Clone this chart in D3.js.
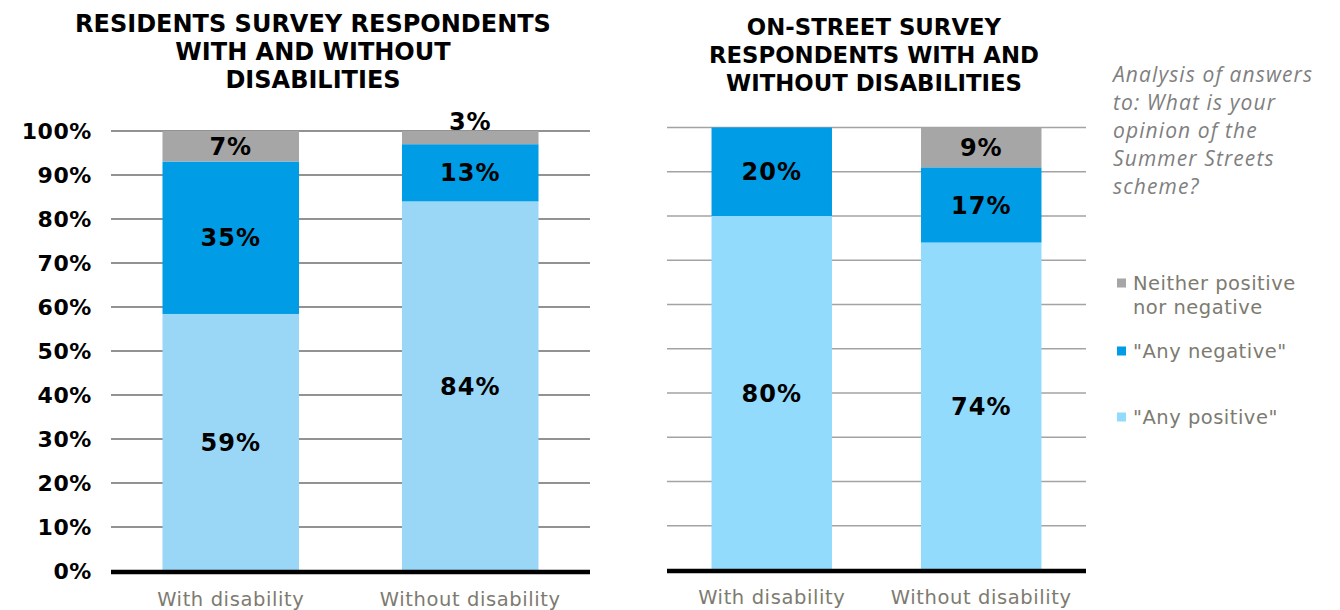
<!DOCTYPE html>
<html>
<head>
<meta charset="utf-8">
<script src="https://cdn.jsdelivr.net/npm/d3@7"></script>
<style>
  html, body { margin: 0; padding: 0; background: #ffffff; }
  svg { display: block; }
</style>
</head>
<body>
<svg id="chart" width="1340" height="610"></svg>
<script>
// Response categories, bottom to top of each stacked bar
const categories = ["With disability", "Without disability"];
const seriesKeys = ["positive", "negative", "neither"];
const seriesNames = ["\"Any positive\"", "\"Any negative\"", "Neither positive nor negative"];

// Residents survey (percent of respondents)
const residentsPositive = [59, 84];
const residentsNegative = [35, 13];
const residentsNeither  = [7, 3];

// On-street survey (percent of respondents)
const streetPositive = [80, 74];
const streetNegative = [20, 17];
const streetNeither  = [0, 9];

const yTicks = [0, 10, 20, 30, 40, 50, 60, 70, 80, 90, 100];

const residentsTitle = ["RESIDENTS SURVEY RESPONDENTS", "WITH AND WITHOUT", "DISABILITIES"];
const streetTitle = ["ON-STREET SURVEY", "RESPONDENTS WITH AND", "WITHOUT DISABILITIES"];
const noteLines = ["Analysis of answers", "to: What is your", "opinion of the", "Summer Streets", "scheme?"];

const svg = d3.select("#chart");
const labelFont = "'DejaVu Sans', Verdana, sans-serif";
const catColor = "#7d7b70";

function buildRows(pos, neg, nei) {
  return categories.map((c, i) => ({ category: c, positive: pos[i], negative: neg[i], neither: nei[i] }));
}

function drawPanel(opts) {
  const rows = buildRows(opts.pos, opts.neg, opts.nei);
  const stack = d3.stack().keys(seriesKeys).offset(d3.stackOffsetExpand);
  const layers = stack(rows);

  const x = d3.scaleBand().domain(categories)
    .range([opts.x0, opts.x1]).paddingInner(opts.pad).paddingOuter(opts.pad / 2);
  const y = d3.scaleLinear().domain([0, 1]).range([opts.y0, opts.y1]);
  const color = d3.scaleOrdinal().domain(seriesKeys).range(opts.colors);

  const g = svg.append("g");

  // horizontal gridlines
  g.append("g").selectAll("line").data(yTicks.filter(t => t > 0)).join("line")
    .attr("x1", opts.x0).attr("x2", opts.x1)
    .attr("y1", d => y(d / 100)).attr("y2", d => y(d / 100))
    .attr("stroke", opts.gridColor).attr("stroke-width", 1.3);

  // y axis tick labels
  if (opts.showY) {
    const yAxis = d3.axisLeft(d3.scaleLinear().domain([0, 100]).range([opts.y0, opts.y1]))
      .tickValues(yTicks).tickFormat(d => d + "%").tickSize(0).tickPadding(0);
    const ya = g.append("g").attr("transform", `translate(${opts.yLabelX},0)`).call(yAxis);
    ya.select(".domain").remove();
    ya.selectAll("text").attr("font-family", labelFont).attr("font-weight", "bold")
      .attr("font-size", 22).attr("letter-spacing", 0.6).attr("fill", "#000").attr("dy", "0.36em");
  }

  // stacked bars
  const layerG = g.append("g").selectAll("g").data(layers).join("g")
    .attr("fill", d => color(d.key));
  layerG.selectAll("rect").data(d => d.filter(s => s[1] - s[0] > 0)).join("rect")
    .attr("x", d => x(d.data.category))
    .attr("width", x.bandwidth())
    .attr("y", d => y(d[1]))
    .attr("height", d => y(d[0]) - y(d[1]));

  // value labels
  const labels = [];
  layers.forEach(layer => {
    layer.forEach(s => {
      const v = s.data[layer.key];
      if (v > 0) labels.push({ cat: s.data.category, v, top: y(s[1]), bot: y(s[0]) });
    });
  });
  g.append("g").selectAll("text").data(labels).join("text")
    .attr("x", d => x(d.cat) + x.bandwidth() / 2)
    .attr("y", d => (d.bot - d.top) < 20 ? d.top - 10 : (d.top + d.bot) / 2)
    .attr("dy", "0.36em")
    .attr("text-anchor", "middle")
    .attr("font-family", labelFont).attr("font-weight", "bold").attr("font-size", 24)
    .attr("letter-spacing", 1)
    .attr("fill", "#000")
    .text(d => d.v + "%");

  // base axis line
  g.append("line")
    .attr("x1", opts.x0).attr("x2", opts.x1)
    .attr("y1", y(0) + 1).attr("y2", y(0) + 1)
    .attr("stroke", "#000").attr("stroke-width", 4.5);

  // category labels
  const xAxis = d3.axisBottom(x).tickSize(0).tickPadding(0);
  const xa = g.append("g").attr("transform", `translate(0,${opts.catY})`).call(xAxis);
  xa.select(".domain").remove();
  xa.selectAll("text").attr("font-family", labelFont).attr("font-size", 19.5)
    .attr("letter-spacing", 0.6)
    .attr("fill", catColor).attr("dy", "0.36em");

  // title
  g.append("g").selectAll("text").data(opts.title).join("text")
    .attr("x", opts.titleX).attr("y", (d, i) => opts.titleY + i * 28)
    .attr("dy", "0.36em")
    .attr("text-anchor", "middle")
    .attr("font-family", labelFont).attr("font-weight", "bold").attr("font-size", opts.titleSize)
    .attr("fill", "#000")
    .text(d => d);
}

drawPanel({
  pos: residentsPositive, neg: residentsNegative, nei: residentsNeither,
  x0: 111, x1: 590, y0: 571, y1: 131, pad: 0.43,
  colors: ["#9ad7f7", "#009de6", "#a6a6a6"],
  gridColor: "#6e6e6e", showY: true, yLabelX: 92, catY: 599,
  title: residentsTitle, titleX: 313, titleY: 23, titleSize: 24
});

drawPanel({
  pos: streetPositive, neg: streetNegative, nei: streetNeither,
  x0: 667, x1: 1086, y0: 570, y1: 127.5, pad: 0.425,
  colors: ["#93dbfc", "#009de6", "#a6a6a6"],
  gridColor: "#a3a3a3", showY: false, catY: 597,
  title: streetTitle, titleX: 874, titleY: 27, titleSize: 22.8
});

// explanatory note
svg.append("g").selectAll("text").data(noteLines).join("text")
  .attr("x", 1113).attr("y", (d, i) => 74 + i * 28.2)
  .attr("dy", "0.36em")
  .attr("font-family", "'Open Sans', sans-serif").attr("font-style", "italic")
  .attr("font-size", 21).attr("letter-spacing", 1.1).attr("fill", "#7f7f7f")
  .text(d => d);

// legend, top to bottom: neither, negative, positive
const legendItems = [
  { key: "neither", lines: ["Neither positive", "nor negative"], y: 283, color: "#a6a6a6" },
  { key: "negative", lines: [seriesNames[1]], y: 351, color: "#009de6" },
  { key: "positive", lines: [seriesNames[0]], y: 417, color: "#93dbfc" }
];
const lg = svg.append("g").selectAll("g").data(legendItems).join("g")
  .attr("transform", d => `translate(1117,${d.y})`);
lg.append("rect").attr("x", 0).attr("y", -4.5).attr("width", 9).attr("height", 9)
  .attr("fill", d => d.color);
lg.selectAll("text").data(d => d.lines).join("text")
  .attr("x", 16).attr("y", (d, i) => i * 24)
  .attr("dy", "0.36em")
  .attr("font-family", labelFont).attr("font-size", 19.5).attr("letter-spacing", 0.5)
  .attr("fill", catColor)
  .text(d => d);
</script>
</body>
</html>
